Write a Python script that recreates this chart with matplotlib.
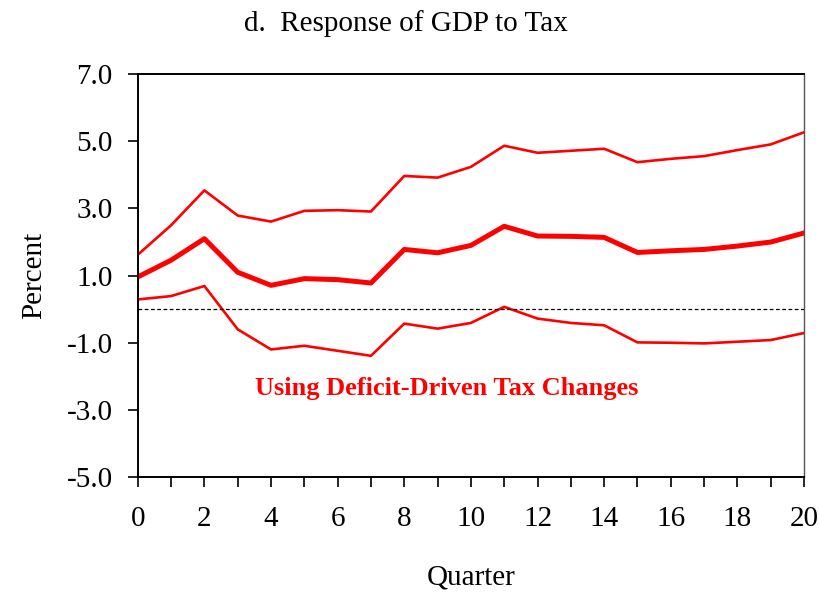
import numpy as np
import matplotlib
matplotlib.use('Agg')
from matplotlib import pyplot as plt

# impulse response of GDP to tax, with upper and lower bands
quarters = np.arange(0, 21)
upper = [1.62, 2.50, 3.54, 2.79, 2.61, 2.93, 2.95, 2.91, 3.97, 3.92, 4.24,
         4.87, 4.66, 4.72, 4.78, 4.38, 4.48, 4.56, 4.74, 4.91, 5.27]
middle = [0.96, 1.46, 2.10, 1.10, 0.71, 0.91, 0.88, 0.78, 1.78, 1.68, 1.90,
          2.47, 2.18, 2.17, 2.14, 1.69, 1.74, 1.78, 1.88, 2.00, 2.27]
lower = [0.29, 0.39, 0.69, -0.60, -1.20, -1.09, -1.24, -1.39, -0.43, -0.58, -0.41,
         0.07, -0.28, -0.41, -0.48, -0.99, -1.00, -1.02, -0.97, -0.92, -0.71]

y_ticks = [-5, -3, -1, 1, 3, 5, 7]
x_labels = [0, 2, 4, 6, 8, 10, 12, 14, 16, 18, 20]

plt.rcParams['font.family'] = ['Liberation Serif', 'DejaVu Serif']

fig = plt.figure(figsize=(8.2, 5.94), dpi=100)
ax = fig.add_axes([0.168, 0.197, 0.8125, 0.678])

ax.plot(quarters, upper, color='#ff0000', lw=1.9)
ax.plot(quarters, middle, color='#ff0000', lw=3.6)
ax.plot(quarters, lower, color='#ff0000', lw=1.9)
ax.axhline(0, color='black', lw=0.9, ls=(0, (3, 2)))

ax.set_xlim(0, 20)
ax.set_ylim(-5, 7)
ax.set_xticks(quarters)
ax.set_xticklabels([str(q) if q in x_labels else '' for q in quarters])
ax.set_yticks(y_ticks)
ax.set_yticklabels(['%.1f' % v for v in y_ticks])
ax.tick_params(direction='out', length=7, width=1.2, labelsize=21)
ax.tick_params(axis='y', pad=11)
ax.tick_params(axis='x', pad=14)
ax.tick_params(top=False, right=False)
for side in ['left', 'bottom', 'top']:
    ax.spines[side].set_linewidth(1.4)
ax.spines['right'].set_linewidth(1.0)
ax.spines['right'].set_color('#555555')

ax.set_ylabel('Percent', fontsize=21, labelpad=14)
fig.text(0.575, 0.028, 'Quarter', fontsize=21, ha='center', va='center')
fig.text(0.495, 0.96, 'd.  Response of GDP to Tax', fontsize=21, ha='center', va='center')

ax.text(9.28, -2.35, 'Using Deficit-Driven Tax Changes', color='#ff0000',
        fontsize=19, fontweight='bold', ha='center', va='center')

fig.savefig('out.png', dpi=100)
